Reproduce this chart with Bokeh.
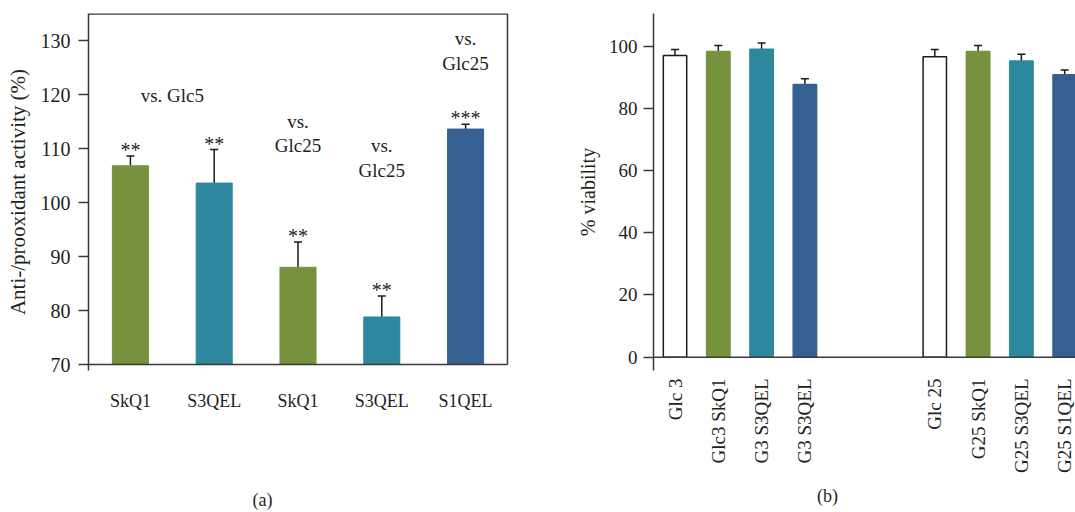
import math
from bokeh.plotting import figure
from bokeh.models import (Range1d, FixedTicker, ColumnDataSource, Whisker, TeeHead,
                          Span, LinearAxis)
from bokeh.layouts import row
from bokeh.core.properties import value
from bokeh.embed import file_html
from bokeh.resources import INLINE

# ---------------- data ----------------
left_labels = ["SkQ1", "S3QEL", "SkQ1", "S3QEL", "S1QEL"]
left_values = [106.8, 103.6, 88.0, 78.8, 113.6]
left_err_top = [108.6, 109.8, 92.7, 82.7, 114.5]
left_sig = ["**", "**", "**", "**", "***"]
left_compare = ["vs. Glc5", "vs.", "Glc25", "vs.", "Glc25", "vs.", "Glc25"]

right_labels = ["Glc 3", "Glc3 SkQ1", "G3 S3QEL", "G3 S3QEL",
                "Glc 25", "G25 SkQ1", "G25 S3QEL", "G25 S1QEL"]
right_slots = [0, 1, 2, 3, 6, 7, 8, 9]
right_values = [97.0, 98.3, 99.0, 87.7, 96.6, 98.3, 95.2, 90.8]
right_err_top = [98.9, 100.2, 101.0, 89.5, 98.9, 100.2, 97.4, 92.3]

# ---------------- style ----------------
FONT = "Liberation Serif"
TXT = "#231f20"
AX = "#3a3a3a"
GREEN = "#77923c"
TEAL = "#2d879d"
BLUE = "#366091"
left_colors = [GREEN, TEAL, GREEN, TEAL, BLUE]
right_fill = ["white", GREEN, TEAL, BLUE, "white", GREEN, TEAL, BLUE]
right_line = ["#1a1a1a", GREEN, TEAL, BLUE, "#1a1a1a", GREEN, TEAL, BLUE]


def style_axis(ax):
    ax.major_label_text_font = FONT
    ax.major_label_text_color = TXT
    ax.axis_label_text_font = FONT
    ax.axis_label_text_color = TXT
    ax.axis_label_text_font_style = "normal"
    ax.axis_line_color = AX
    ax.axis_line_width = 1.5
    ax.major_tick_line_color = AX
    ax.major_tick_line_width = 1.5
    ax.minor_tick_line_color = None


def caption_axis(xpos, text, standoff, size):
    ax = LinearAxis(ticker=FixedTicker(ticks=[xpos]),
                    major_label_overrides={xpos: text})
    style_axis(ax)
    ax.axis_line_color = None
    ax.major_tick_line_color = None
    ax.major_tick_out = 0
    ax.major_tick_in = 0
    ax.major_label_standoff = standoff
    ax.major_label_text_font_size = size
    return ax


# ================= left panel (a) =================
p1 = figure(width=560, height=512, output_backend="svg", toolbar_location=None,
            x_range=Range1d(0, 5.024), y_range=Range1d(68.89, 135.0),
            min_border_left=88, min_border_right=51, min_border_top=13,
            min_border_bottom=142)
p1.outline_line_color = None
p1.xgrid.grid_line_color = None
p1.ygrid.grid_line_color = None

lx = [i + 0.5 for i in range(len(left_labels))]
src1 = ColumnDataSource(dict(x=lx, top=left_values, err=left_err_top,
                             color=left_colors, sig=left_sig,
                             base=[70] * len(lx)))
p1.vbar(x="x", top="top", bottom="base", width=0.43, fill_color="color",
        line_color="color", source=src1)
w1 = Whisker(base="x", lower="top", upper="err", source=src1, dimension="height",
             line_color="#1a1a1a", line_width=1.5, lower_head=None,
             upper_head=TeeHead(size=8, line_color="#1a1a1a", line_width=1.5))
p1.add_layout(w1)
p1.text(x="x", y="err", text="sig", source=src1, text_align="center",
        text_baseline="alphabetic", y_offset=-6, text_font=value(FONT),
        text_font_size="20px", text_color=TXT)

# comparison annotations
cmp_x = [1.0, 2.5, 2.5, 3.5, 3.5, 4.5, 4.5]
cmp_y = [119.8, 115.06, 110.56, 110.56, 105.93, 130.37, 125.74]
p1.text(x=cmp_x, y=cmp_y, text=left_compare, text_align="center",
        text_baseline="alphabetic", text_font=value(FONT),
        text_font_size="19px", text_color=TXT)

# frame lines (bottom, right, top)
p1.segment(x0=[0, 5, 0], y0=[70, 70, 135], x1=[5, 5, 5], y1=[70, 135, 135],
           line_color=AX, line_width=[1.5, 1.5, 2.5])

ax1 = p1.xaxis[0]
ay1 = p1.yaxis[0]
style_axis(ax1)
style_axis(ay1)
ax1.ticker = FixedTicker(ticks=lx)
ax1.major_label_overrides = {x: l for x, l in zip(lx, left_labels)}
ax1.axis_line_color = None
ax1.major_tick_out = 0
ax1.major_tick_in = 0
ax1.major_label_standoff = 20
ax1.major_label_text_font_size = "18px"
ay1.ticker = FixedTicker(ticks=[70, 80, 90, 100, 110, 120, 130])
ay1.axis_label = "Anti-/prooxidant activity (%)"
ay1.major_tick_out = 10
ay1.major_tick_in = 0
ay1.major_label_standoff = 8
ay1.major_label_text_font_size = "20px"
ay1.axis_label_text_font_size = "21px"
ay1.axis_label_standoff = 8
p1.add_layout(caption_axis(2.076, "(a)", 76, "18px"), "below")

# ================= right panel (b) =================
p2 = figure(width=515, height=512, output_backend="svg", toolbar_location=None,
            x_range=Range1d(-0.497, 9.25), y_range=Range1d(-4.3, 110.5),
            min_border_left=93, min_border_right=0, min_border_top=13,
            min_border_bottom=142)
p2.outline_line_color = None
p2.xgrid.grid_line_color = None
p2.ygrid.grid_line_color = None

src2 = ColumnDataSource(dict(x=right_slots, top=right_values, err=right_err_top,
                             fill=right_fill, line=right_line))
p2.vbar(x="x", top="top", bottom=0, width=0.54, fill_color="fill",
        line_color="line", line_width=1.5, source=src2)
w2 = Whisker(base="x", lower="top", upper="err", source=src2, dimension="height",
             line_color="#1a1a1a", line_width=1.5, lower_head=None,
             upper_head=TeeHead(size=8, line_color="#1a1a1a", line_width=1.5))
p2.add_layout(w2)
p2.add_layout(Span(location=0, dimension="width", line_color=AX, line_width=1.5))

ax2 = p2.xaxis[0]
ay2 = p2.yaxis[0]
style_axis(ax2)
style_axis(ay2)
ax2.ticker = FixedTicker(ticks=right_slots)
ax2.major_label_overrides = {x: l for x, l in zip(right_slots, right_labels)}
ax2.major_label_orientation = math.pi / 2
ax2.axis_line_color = None
ax2.major_tick_out = 0
ax2.major_tick_in = 0
ax2.major_label_standoff = 8
ax2.major_label_text_font_size = "19px"
ay2.ticker = FixedTicker(ticks=[0, 20, 40, 60, 80, 100])
ay2.axis_label = "% viability"
ay2.major_tick_out = 10
ay2.major_tick_in = 0
ay2.major_label_standoff = 6
ay2.major_label_text_font_size = "19px"
ay2.axis_label_text_font_size = "20px"
ay2.axis_label_standoff = 7
p2.add_layout(caption_axis(3.52, "(b)", 10, "18px"), "below")

layout = row(p1, p2)
open("out.html", "w").write(file_html(layout, INLINE))
